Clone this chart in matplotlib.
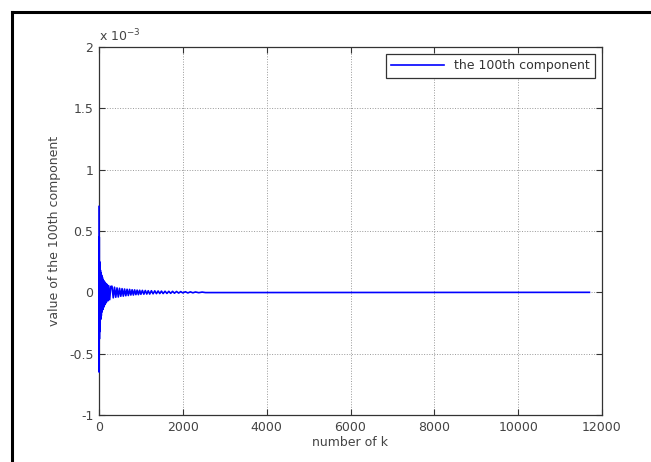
import matplotlib
matplotlib.use("Agg")
import matplotlib.pyplot as plt
from matplotlib.lines import Line2D

# samples of the 100th component (units of 1e-3)
k_vals = [0, 3, 6, 10, 14, 18, 23, 28, 34, 40,
          47, 55, 63, 72, 82, 92, 103, 115, 128, 142,
          157, 173, 190, 210, 230, 255, 280,
          310, 340, 370, 400, 430, 460, 490, 520, 550, 580,
          610, 640, 670, 700, 730, 760, 790, 820, 850, 880,
          910, 940, 970, 1000, 1035, 1070, 1105, 1140, 1175, 1210,
          1250, 1290, 1330, 1370, 1410, 1450, 1490, 1530, 1575, 1620,
          1665, 1710, 1755, 1800, 1850, 1900, 1950, 2000, 2060, 2120,
          2180, 2240, 2300, 2380, 2460, 2540,
          11700]
comp_vals = [0.70, -0.65, 0.45, -0.38, 0.25, -0.32, 0.20, -0.26, 0.18, -0.22,
             0.16, -0.19, 0.14, -0.16, 0.12, -0.14, 0.10, -0.12, 0.09, -0.10,
             0.075, -0.085, 0.065, -0.07, 0.055, -0.06, 0.048,
             0.05, -0.045, 0.042, -0.04, 0.036, -0.038, 0.033, -0.032, 0.03, -0.031,
             0.027, -0.028, 0.025, -0.026, 0.024, -0.022, 0.021, -0.022, 0.02, -0.019,
             0.018, -0.019, 0.017, -0.016, 0.016, -0.015, 0.015, -0.014, 0.013, -0.014,
             0.013, -0.012, 0.012, -0.011, 0.011, -0.01, 0.01, -0.01, 0.009, -0.009,
             0.008, -0.008, 0.008, -0.007, 0.007, -0.006, 0.006, -0.005, 0.005, -0.005,
             0.004, -0.004, 0.003, -0.003, 0.002, -0.002,
             0.0]

x_ticks = [0, 2000, 4000, 6000, 8000, 10000, 12000]
y_ticks = [-1, -0.5, 0, 0.5, 1, 1.5, 2]
y_ticklabels = ['-1', '-0.5', '0', '0.5', '1', '1.5', '2']

text_col = '#444444'
fs = 9
plt.rcParams['font.family'] = 'DejaVu Sans'

fig = plt.figure(figsize=(6.51, 4.62), dpi=100)
ax = fig.add_axes([99 / 651, 47 / 462, 503 / 651, 368 / 462])

ax.plot(k_vals, comp_vals, color='#0000ff', lw=1.2, zorder=3, clip_on=False,
        label='the 100th component')

ax.set_xlim(0, 12000)
ax.set_ylim(-1, 2)
ax.set_xticks(x_ticks)
ax.set_xticklabels([str(t) for t in x_ticks])
ax.set_yticks(y_ticks)
ax.set_yticklabels(y_ticklabels)
ax.tick_params(direction='in', top=True, right=True, length=4, width=0.8,
               colors='#333333', labelcolor=text_col, labelsize=fs, pad=4)
ax.grid(True, linestyle=':', color='#999999', lw=0.7)
for sp in ax.spines.values():
    sp.set_color('#333333')
    sp.set_linewidth(0.9)

ax.set_xlabel('number of k', fontsize=fs, color=text_col, labelpad=2)
ax.set_ylabel('value of the 100th component', fontsize=fs, color=text_col, labelpad=6)
ax.text(0.0, 1.008, r'x 10$^{-3}$', transform=ax.transAxes, fontsize=fs,
        color=text_col, ha='left', va='bottom')

leg = ax.legend(loc='upper right', fontsize=fs, fancybox=False, framealpha=1,
                edgecolor='#333333', borderpad=0.45, handlelength=4.2,
                borderaxespad=0.55)
for t in leg.get_texts():
    t.set_color('#333333')
leg.get_frame().set_linewidth(0.9)

# outer black frame (cropped on the right and bottom)
W, H = 651, 462
fig.add_artist(Line2D([12 / W, 1.0], [1 - 12 / H, 1 - 12 / H], color='black', lw=2.2,
                      transform=fig.transFigure))
fig.add_artist(Line2D([12 / W, 12 / W], [0.0, 1 - 12 / H], color='black', lw=2.2,
                      transform=fig.transFigure))

fig.savefig('out.png', dpi=100)
